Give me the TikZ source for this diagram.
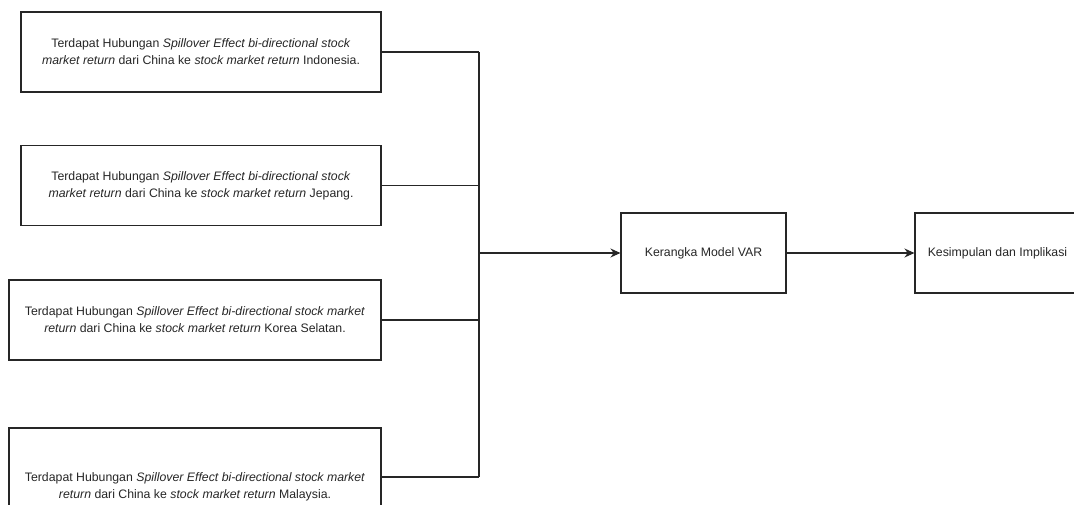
\documentclass[tikz,border=0pt]{standalone}
\usepackage{fontspec}
\setmainfont{Liberation Sans}
\usepackage{tikz}
\usetikzlibrary{positioning,calc,arrows.meta}

\begin{document}
\begin{tikzpicture}[
    x=1pt, y=-1pt,
    box/.style={draw=black!85, line width=1.1pt, rectangle, align=center, inner sep=0pt,
        text=black!85, font=\fontsize{12.3}{17}\selectfont},
    hyp/.style={box, minimum width=360pt, minimum height=80pt},
    hypwide/.style={box, minimum width=372pt, minimum height=80pt},
    stage/.style={box, minimum width=165pt, minimum height=80pt},
    link/.style={draw=black!85, line width=1.1pt},
    arrow/.style={link, -{Stealth[length=10pt,width=9pt]}}
]
    \useasboundingbox (0,0) rectangle (1074,505);

    % Hipotesis
    \node [hyp] (indo) at (201,52) {Terdapat Hubungan \textit{Spillover Effect bi-directional stock}\\
        \textit{market return} dari China ke \textit{stock market return} Indonesia.};
    \node [hyp] (jepang) at (201,185.5) {Terdapat Hubungan \textit{Spillover Effect bi-directional stock}\\
        \textit{market return} dari China ke \textit{stock market return} Jepang.};
    \node [hypwide] (korea) at (195,320) {Terdapat Hubungan \textit{Spillover Effect bi-directional stock market}\\
        \textit{return} dari China ke \textit{stock market return} Korea Selatan.};
    \node [hypwide, minimum height=118pt] (malay) at (195,487) {Terdapat Hubungan \textit{Spillover Effect bi-directional stock market}\\
        \textit{return} dari China ke \textit{stock market return} Malaysia.};

    % Model dan kesimpulan
    \node [stage] (var) at (703.5,253) {Kerangka Model VAR};
    \node [stage] (simpul) at (997.5,253) {Kesimpulan dan Implikasi};

    % Penghubung
    \coordinate (join) at (479,253);
    \coordinate (malayout) at ([yshift=10pt]malay.east);
    \foreach \h in {indo.east, jepang.east, korea.east, malayout} {
        \draw [link] (\h) -- (\h -| join);
    }
    \draw [link] (indo.east -| join) -- (malayout -| join);
    \draw [arrow] (join) -- (var.west);
    \draw [arrow] (var.east) -- (simpul.west);
\end{tikzpicture}
\end{document}
